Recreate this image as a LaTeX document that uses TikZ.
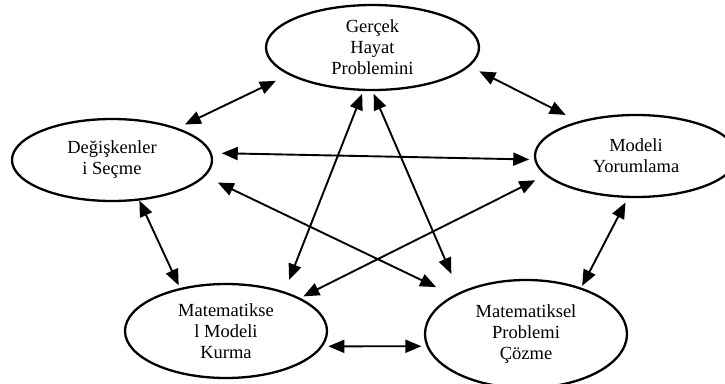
\documentclass[tikz,border=0pt]{standalone}
\usepackage{fontspec}
\setmainfont{Liberation Serif}
\usepackage{tikz}
\usetikzlibrary{shapes.geometric, arrows.meta}

\begin{document}
\begin{tikzpicture}[x=1pt, y=-1pt,
    stage/.style={draw, ellipse, line width=2.3pt, inner sep=0pt, align=center,
        font=\fontsize{18.5}{21}\selectfont},
    arr/.style={<->, line width=1.9pt},
    >={Triangle[length=16pt,width=13pt]}]
    \useasboundingbox (0,0) rectangle (725,383);

    \node[stage, minimum width=213pt, minimum height=85pt] (gercek) at (372.5,47.5) {Gerçek\\Hayat\\Problemini};
    \node[stage, minimum width=200pt, minimum height=82pt] (degisken) at (112,160) {Değişkenler\\i Seçme};
    \node[stage, minimum width=202pt, minimum height=82pt] (yorum) at (636,156) {Modeli\\Yorumlama};
    \node[stage, minimum width=202pt, minimum height=94pt] (kurma) at (226,331) {Matematikse\\l Modeli\\Kurma};
    \node[stage, minimum width=202pt, minimum height=108pt] (cozme) at (526,334) {Matematiksel\\Problemi\\Çözme};

    % outer ring
    \draw[arr, shorten <=14pt, shorten >=8pt] (gercek.198) -- (degisken.26);
    \draw[arr, shorten <=11pt, shorten >=14pt] (gercek.349) -- (yorum.149);
    \draw[arr, shorten <=0pt, shorten >=3pt] (degisken.304) -- (kurma.137);
    \draw[arr, shorten <=5pt, shorten >=2pt] (yorum.259) -- (cozme.40);
    \draw[arr, shorten <=5.5pt, shorten >=5pt] (kurma.351) -- (cozme.187);

    % inner star
    \draw[arr, shorten <=10pt, shorten >=5pt] (degisken.4) -- (yorum.182);
    \draw[arr, shorten <=14pt, shorten >=19pt] (degisken.350) -- (cozme.152);
    \draw[arr, shorten <=3pt, shorten >=12.5pt] (gercek.258) -- (kurma.34);
    \draw[arr, shorten <=3pt, shorten >=20pt] (gercek.270) -- (cozme.148);
    \draw[arr, shorten <=11pt, shorten >=3.5pt] (yorum.192) -- (kurma.24);
\end{tikzpicture}
\end{document}
